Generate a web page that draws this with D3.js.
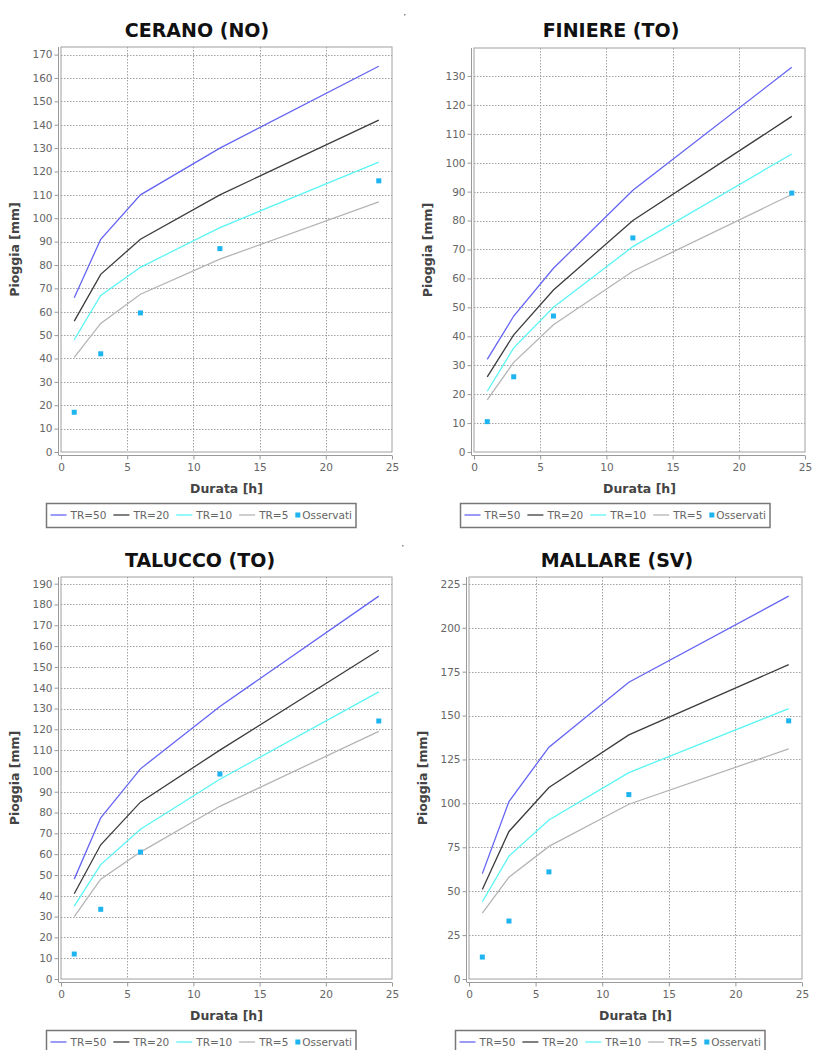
<!DOCTYPE html>
<html>
<head>
<meta charset="utf-8">
<script src="https://cdn.jsdelivr.net/npm/d3@7"></script>
<style>
  html, body { margin: 0; padding: 0; background: #fff; }
  svg { display: block; }
</style>
</head>
<body>
<svg id="chart" width="813" height="1050"></svg>
<script>
// ---- DATA ----
const durations = [1, 3, 6, 12, 24];
const seriesNames = ["TR=50", "TR=20", "TR=10", "TR=5"];
const obsName = "Osservati";
const xLabel = "Durata [h]";
const yLabel = "Pioggia [mm]";
const xTicks = [0, 5, 10, 15, 20, 25];

const stationTitles = ["CERANO (NO)", "FINIERE (TO)", "TALUCCO (TO)", "MALLARE (SV)"];
const yTickSteps = [10, 10, 10, 25];

const ceranoTR50 = [66, 91, 110, 130, 165];
const ceranoTR20 = [56, 76, 91, 110, 142];
const ceranoTR10 = [48, 67, 79, 96, 124];
const ceranoTR5  = [40.5, 55, 67.5, 82.5, 107];
const ceranoObs  = [17, 42, 59.5, 87, 116];

const finiereTR50 = [32, 47, 63.5, 90.5, 133];
const finiereTR20 = [26, 40.5, 56, 80, 116];
const finiereTR10 = [21, 36, 50, 71, 103];
const finiereTR5  = [18, 31, 44, 62.5, 89];
const finiereObs  = [10.5, 26, 47, 74, 89.5];

const taluccoTR50 = [48, 77.5, 101, 131, 184];
const taluccoTR20 = [41, 64.5, 85, 110, 158];
const taluccoTR10 = [35, 55, 72, 96, 138];
const taluccoTR5  = [30, 48, 61, 83, 119];
const taluccoObs  = [12, 33.5, 61, 98.5, 124];

const mallareTR50 = [60, 101, 132, 169, 218];
const mallareTR20 = [51, 84, 109, 139, 179];
const mallareTR10 = [44, 70, 90.5, 117.5, 154];
const mallareTR5  = [37.5, 58, 75.5, 99.5, 131];
const mallareObs  = [12.5, 33, 61, 105, 147];

// ---- STYLE / LAYOUT ----
const lineColors = ["#6464f5", "#3c3c3c", "#5af5f5", "#b4b4b4"];
const obsColor = "#1eb4f0";
const FONT = "'DejaVu Sans', Verdana, sans-serif";

const panels = [
  { title: stationTitles[0], lines: [ceranoTR50, ceranoTR20, ceranoTR10, ceranoTR5], obs: ceranoObs, step: yTickSteps[0],
    left: 61, right: 392, top: 47, bottom: 452, titleX: 197, titleY: 37, xLabY: 493, legTop: 503, legCx: 201 },
  { title: stationTitles[1], lines: [finiereTR50, finiereTR20, finiereTR10, finiereTR5], obs: finiereObs, step: yTickSteps[1],
    left: 474, right: 805, top: 48, bottom: 452, titleX: 611, titleY: 37, xLabY: 493, legTop: 503, legCx: 615 },
  { title: stationTitles[2], lines: [taluccoTR50, taluccoTR20, taluccoTR10, taluccoTR5], obs: taluccoObs, step: yTickSteps[2],
    left: 61, right: 392, top: 577, bottom: 979, titleX: 200, titleY: 567, xLabY: 1020, legTop: 1030, legCx: 201 },
  { title: stationTitles[3], lines: [mallareTR50, mallareTR20, mallareTR10, mallareTR5], obs: mallareObs, step: yTickSteps[3],
    left: 469, right: 802, top: 577, bottom: 979, titleX: 617, titleY: 567, xLabY: 1020, legTop: 1030, legCx: 610 }
];

const svg = d3.select("#chart");

// small stray dots in the reference
svg.append("rect").attr("x", 404).attr("y", 14).attr("width", 1.5).attr("height", 1.5).attr("fill", "#888");
svg.append("rect").attr("x", 402).attr("y", 545).attr("width", 1.5).attr("height", 1.5).attr("fill", "#888");

panels.forEach(p => {
  const g = svg.append("g");
  const allVals = p.lines.flat().concat(p.obs);
  const yMax = d3.max(allVals) * 1.05;
  const x = d3.scaleLinear().domain([0, 25]).range([p.left, p.right]);
  const y = d3.scaleLinear().domain([0, yMax]).range([p.bottom, p.top]);
  const yTicks = d3.range(0, yMax, p.step);

  // title
  g.append("text").attr("x", p.titleX).attr("y", p.titleY)
    .attr("text-anchor", "middle").attr("font-family", FONT)
    .attr("font-weight", "bold").attr("font-size", 19).attr("fill", "#111")
    .text(p.title);

  // plot background + border
  g.append("rect").attr("x", p.left).attr("y", p.top)
    .attr("width", p.right - p.left).attr("height", p.bottom - p.top)
    .attr("fill", "#fff").attr("stroke", "#a0a0a0").attr("stroke-width", 1);

  // gridlines
  g.append("g").selectAll("line").data(yTicks.filter(t => t > 0)).join("line")
    .attr("x1", p.left).attr("x2", p.right)
    .attr("y1", d => Math.round(y(d)) + 0.5).attr("y2", d => Math.round(y(d)) + 0.5)
    .attr("stroke", "#a0a0a0").attr("stroke-width", 1).attr("stroke-dasharray", "1.5,1.5");
  g.append("g").selectAll("line").data(xTicks.filter(t => t > 0 && t < 25)).join("line")
    .attr("y1", p.top).attr("y2", p.bottom)
    .attr("x1", d => Math.round(x(d)) + 0.5).attr("x2", d => Math.round(x(d)) + 0.5)
    .attr("stroke", "#a0a0a0").attr("stroke-width", 1).attr("stroke-dasharray", "1.5,1.5");

  // y axis
  const yAxis = d3.axisLeft(y).tickValues(yTicks).tickSize(4).tickPadding(2).tickFormat(d3.format("d"));
  const ya = g.append("g").attr("transform", `translate(${p.left - 2.5},0)`).call(yAxis);
  ya.select(".domain").attr("stroke", "#999").attr("d", `M0,${p.top}V${p.bottom + 3}`);
  ya.selectAll(".tick line").attr("stroke", "#999");
  ya.selectAll(".tick text").attr("font-family", FONT).attr("font-size", 10.5).attr("fill", "#666");

  // x axis
  const xAxis = d3.axisBottom(x).tickValues(xTicks).tickSize(4).tickPadding(4).tickFormat(d3.format("d"));
  const xa = g.append("g").attr("transform", `translate(0,${p.bottom + 3.5})`).call(xAxis);
  xa.select(".domain").attr("stroke", "#999").attr("d", `M${p.left - 2.5},0H${p.right}`);
  xa.selectAll(".tick line").attr("stroke", "#999");
  xa.selectAll(".tick text").attr("font-family", FONT).attr("font-size", 10.5).attr("fill", "#666");

  // axis labels
  g.append("text").attr("x", (p.left + p.right) / 2).attr("y", p.xLabY)
    .attr("text-anchor", "middle").attr("font-family", FONT).attr("font-weight", "bold")
    .attr("font-size", 12.5).attr("fill", "#444").text(xLabel);
  g.append("text")
    .attr("transform", `translate(${p.left - 42},${(p.top + p.bottom) / 2}) rotate(-90)`)
    .attr("text-anchor", "middle").attr("font-family", FONT).attr("font-weight", "bold")
    .attr("font-size", 12.5).attr("fill", "#444").text(yLabel);

  // series lines
  const line = d3.line().x((d, i) => x(durations[i])).y(d => y(d));
  p.lines.forEach((vals, si) => {
    g.append("path").datum(vals).attr("d", line)
      .attr("fill", "none").attr("stroke", lineColors[si]).attr("stroke-width", 1.3);
  });
  // observed points
  g.append("g").selectAll("rect").data(p.obs).join("rect")
    .attr("x", (d, i) => x(durations[i]) - 2.5).attr("y", d => y(d) - 2.5)
    .attr("width", 5).attr("height", 5).attr("fill", obsColor);

  // legend
  const leg = g.append("g");
  const items = seriesNames.map((n, i) => ({ name: n, type: "line", color: lineColors[i] }))
    .concat([{ name: obsName, type: "point", color: obsColor }]);
  let cx = 0;
  const itemG = leg.append("g");
  items.forEach((it, i) => {
    const ig = itemG.append("g").attr("transform", `translate(${cx},0)`);
    let tx;
    if (it.type === "line") {
      ig.append("line").attr("x1", 0).attr("x2", 16).attr("y1", 0).attr("y2", 0)
        .attr("stroke", it.color).attr("stroke-width", 1.3);
      tx = 20;
    } else {
      ig.append("rect").attr("x", 0).attr("y", -2.5).attr("width", 5).attr("height", 5).attr("fill", it.color);
      tx = 7;
    }
    const t = ig.append("text").attr("x", tx).attr("y", 4).attr("font-family", FONT)
      .attr("font-size", 10.5).attr("fill", "#666").text(it.name);
    cx += tx + t.node().getComputedTextLength() + 7;
  });
  const totalW = cx - 7;
  const padX = 4, boxH = 24;
  const boxW = totalW + padX * 2;
  const bx = Math.round(p.legCx - boxW / 2) + 0.5;
  leg.insert("rect", ":first-child").attr("x", bx).attr("y", p.legTop + 0.5)
    .attr("width", boxW).attr("height", boxH).attr("fill", "#fff")
    .attr("stroke", "#777").attr("stroke-width", 1.5);
  itemG.attr("transform", `translate(${bx + padX},${p.legTop + boxH / 2})`);
});
</script>
</body>
</html>
